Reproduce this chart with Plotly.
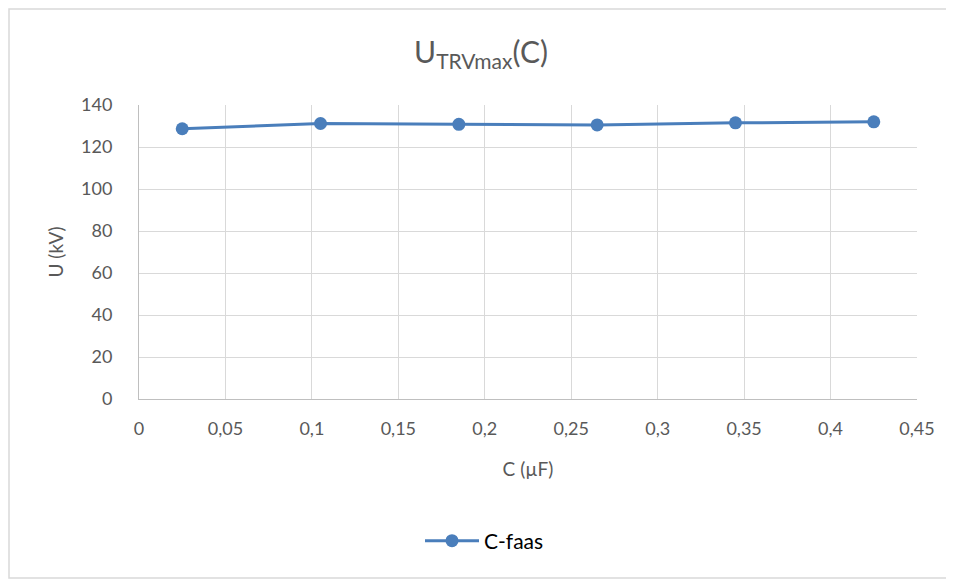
import plotly.graph_objects as go

c_values = [0.025, 0.105, 0.185, 0.265, 0.345, 0.425]
u_values = [128.7, 131.2, 130.8, 130.5, 131.5, 132.0]
x_ticks = [0, 0.05, 0.1, 0.15, 0.2, 0.25, 0.3, 0.35, 0.4, 0.45]
x_tick_labels = ["0", "0,05", "0,1", "0,15", "0,2", "0,25", "0,3", "0,35", "0,4", "0,45"]
y_ticks = [0, 20, 40, 60, 80, 100, 120, 140]

blue = "#4a7ebb"
font = "Lato, Open Sans, sans-serif"

W, H = 946, 571
L, R, T, B = 131, 37, 97, 180
pw, ph = W - L - R, H - T - B

fig = go.Figure()
fig.add_trace(go.Scatter(
    x=c_values, y=u_values, mode="lines+markers", name="C-faas",
    line=dict(color=blue, width=3),
    marker=dict(color=blue, size=13),
))

fig.update_layout(
    width=W, height=H,
    paper_bgcolor="white", plot_bgcolor="white",
    margin=dict(l=L, r=R, t=T, b=B),
    font=dict(family=font, color="#595959", size=18),
    title=dict(text="U<sub>TRVmax</sub>(C)", x=0.5, xanchor="center", y=1 - 44 / H, yanchor="middle",
               font=dict(size=30, color="#595959", family=font)),
    showlegend=True,
    legend=dict(orientation="h", x=(420 - 139) / pw, xanchor="left", y=-(533 - (T + ph)) / ph, yanchor="middle",
                itemwidth=54,
                font=dict(size=21, color="#000000", family=font)),
    xaxis=dict(range=[0, 0.45], tickvals=x_ticks, ticktext=x_tick_labels,
               showgrid=True, gridcolor="#d9d9d9", gridwidth=1,
               showline=True, linecolor="#bfbfbf", linewidth=1, zeroline=False,
               ticks="", ticklabelstandoff=13,
               title=dict(text="C (µF)", standoff=25, font=dict(size=19)),
               tickfont=dict(size=18)),
    yaxis=dict(range=[0, 140], tickvals=y_ticks, showgrid=True, gridcolor="#d9d9d9",
               gridwidth=1, zeroline=False, showline=True, linecolor="#bfbfbf", linewidth=1,
               mirror=False, ticks="", ticklabelstandoff=22,
               title=dict(text="U (kV)", standoff=12, font=dict(size=19)),
               tickfont=dict(size=18)),
    shapes=[dict(type="rect", xref="paper", yref="paper", x0=-(L - 1) / pw, x1=1 + (R - 1) / pw,
                 y0=-(B - 1) / ph, y1=1 + (T - 1) / ph, line=dict(color="#d9d9d9", width=1.5))],
)

fig.write_html("out.html")
